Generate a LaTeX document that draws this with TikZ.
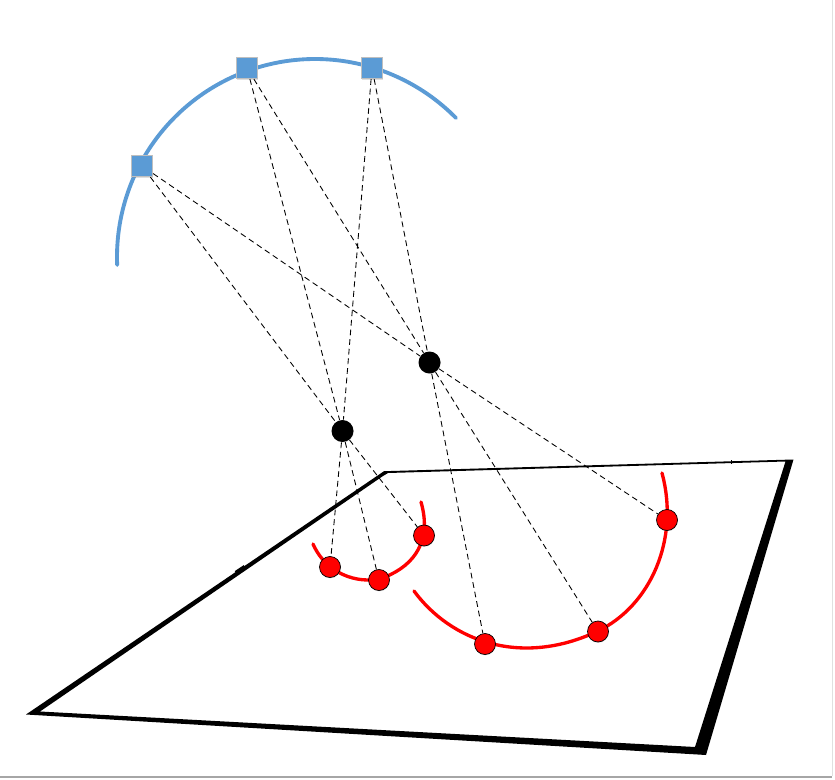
\documentclass[tikz,border=0pt]{standalone}
\usetikzlibrary{shadows}

\definecolor{arcblue}{HTML}{5B9BD5}

\tikzset{
    sensor/.style={rectangle, draw=black!25, line width=0.4pt, fill=arcblue, minimum size=0.43cm, inner sep=0pt,
        drop shadow={shadow xshift=0.2pt, shadow yshift=-0.5pt, opacity=0.25}},
    pinhole/.style={circle, fill=black, minimum size=0.44cm, inner sep=0pt,
        drop shadow={shadow xshift=0.2pt, shadow yshift=-0.3pt, opacity=0.25}},
    spot/.style={circle, draw=black, line width=0.4pt, fill=red, minimum size=0.42cm, inner sep=0pt,
        drop shadow={shadow xshift=0.2pt, shadow yshift=-0.5pt, opacity=0.25}},
    ray/.style={black, line width=0.5pt, dash pattern=on 3.3pt off 2.2pt},
    redarc/.style={red, line width=1.9pt, line cap=round},
}

\begin{document}
\begin{tikzpicture}[x=0.02cm, y=-0.02cm]

        \useasboundingbox (0,0) rectangle (835,780);

        % ==== PAGE EDGE ====
        \fill[black!35] (0,776) rectangle (832,777.5);
        \fill[black!12] (831.5,0) rectangle (833,776);

        % ==== PLANE ====
        \fill[black, even odd rule]
            (26,714.5) -- (384,471.2) -- (793.5,459.5) -- (706,755) -- cycle
            (40,711.5) -- (383,476) -- (388,473) -- (785.5,461.5) -- (695,747) -- cycle;
        \draw[line width=0.5pt] (731,460) -- (731,464);
        \draw[line width=2.6pt] (236,573) -- (245,567);

        % ==== ARCS ====
        \draw[arcblue, line width=2.2pt, line cap=round, samples=120, domain=182.3:44.6]
            plot({315+198*cos(\x)},{257-198*sin(\x)});
        \draw[redarc] (313,544) .. controls (328,578) and (365,585) .. (385,577)
            .. controls (415,565) and (432,540) .. (421,502);
        \draw[redarc] (414,591) .. controls (450,640) and (520,668) .. (598,631)
            .. controls (650,606) and (680,540) .. (662,473);

        % ==== NODES ====
        \node[sensor] (s1) at (142,166) {};
        \node[sensor] (s2) at (247,68) {};
        \node[sensor] (s3) at (372,68) {};

        \node[pinhole] (h1) at (342.5,431) {};
        \node[pinhole] (h2) at (429.5,362.5) {};

        \node[spot] (a1) at (330,567) {};
        \node[spot] (a2) at (379,580) {};
        \node[spot] (a3) at (424,535.5) {};

        \node[spot] (b1) at (485,644) {};
        \node[spot] (b2) at (598,631.5) {};
        \node[spot] (b3) at (667,520) {};

        % ==== RAYS ====
        \foreach \s in {s1,s2,s3}{
            \draw[ray] (\s) -- (h1);
            \draw[ray] (\s) -- (h2);
        }
        \foreach \a in {a1,a2,a3}{
            \draw[ray] (h1) -- (\a);
        }
        \foreach \b in {b1,b2,b3}{
            \draw[ray] (h2) -- (\b);
        }

    \end{tikzpicture}
\end{document}
